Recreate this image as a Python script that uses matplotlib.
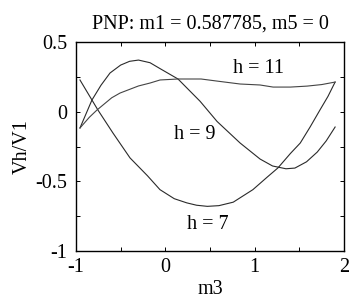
"""
plot.py - harmonic ratio Vh/V1 versus m3 (PNP, m1 = 0.587785, m5 = 0).
"""

import matplotlib
matplotlib.use("Agg")
import matplotlib.pyplot as plt
from matplotlib.ticker import MultipleLocator

# ── Data ──────────────────────────────────────────────────────────────

M3_H7 = [-0.955, -0.821, -0.754, -0.586, -0.395, -0.2, -0.06, 0.1, 0.24, 0.35,
         0.47, 0.6, 0.76, 0.98, 1.14, 1.26, 1.4, 1.51, 1.62, 1.73, 1.82, 1.9]
VH_H7 = [0.228, 0.084, 0.012, -0.153, -0.332, -0.46, -0.56, -0.625, -0.655, -0.672,
         -0.68, -0.675, -0.65, -0.56, -0.47, -0.404, -0.30, -0.225, -0.11, 0.012, 0.11, 0.213]

M3_H9 = [-0.955, -0.821, -0.72, -0.619, -0.50, -0.40, -0.30, -0.171, -0.06, 0.142,
         0.389, 0.579, 0.837, 1.06, 1.2, 1.35, 1.45, 1.58, 1.70, 1.8, 1.9]
VH_H9 = [-0.117, 0.084, 0.19, 0.278, 0.335, 0.362, 0.371, 0.352, 0.31, 0.235,
         0.075, -0.07, -0.225, -0.34, -0.39, -0.41, -0.405, -0.36, -0.29, -0.21, -0.11]

M3_H11 = [-0.955, -0.85, -0.765, -0.6, -0.507, -0.3, -0.171, -0.059, 0.142, 0.4,
          0.579, 0.837, 1.06, 1.206, 1.4, 1.587, 1.75, 1.9]
VH_H11 = [-0.117, -0.04, 0.012, 0.1, 0.134, 0.185, 0.206, 0.228, 0.235, 0.235,
          0.22, 0.199, 0.192, 0.177, 0.177, 0.184, 0.195, 0.213]

LABELS = ["h = 7", "h = 9", "h = 11"]
LABEL_POS = [(0.47, -0.813), (0.333, -0.167), (1.04, 0.307)]

TITLE = "PNP: m1 = 0.587785, m5 = 0"

# ── Plot ──────────────────────────────────────────────────────────────

plt.rcParams["font.family"] = ["Liberation Serif", "DejaVu Serif"]

fig = plt.figure(figsize=(3.5, 3.03), dpi=100)
ax = fig.add_axes([0.217, 0.172, 0.766, 0.689])

line_color = "#2a2a2a"
ax.plot(M3_H7, VH_H7, color=line_color, linewidth=0.8)
ax.plot(M3_H9, VH_H9, color=line_color, linewidth=0.8)
ax.plot(M3_H11, VH_H11, color="#444444", linewidth=0.8)

for text, (x, y) in zip(LABELS, LABEL_POS):
    ax.text(x, y, text, ha="center", va="center", fontsize=14.5)

ax.set_xlim(-1, 2)
ax.set_ylim(-1, 0.5)
ax.set_xticks([-1, 0, 1, 2])
ax.set_yticks([-1, -0.5, 0, 0.5])
ax.set_yticklabels(["-1", "-0.5", "0", "0.5"])
ax.set_xticklabels(["-1", "0", "1", "2"])
ax.xaxis.set_minor_locator(MultipleLocator(0.5))
ax.yaxis.set_minor_locator(MultipleLocator(0.25))
ax.tick_params(which="both", direction="in", top=True, right=True,
               length=3, width=0.7, labelsize=14.5)
ax.tick_params(axis="x", which="major", pad=5)
ax.tick_params(axis="y", which="major", pad=6)
for spine in ax.spines.values():
    spine.set_linewidth(1.0)

ax.set_xlabel("m3", fontsize=14.5, labelpad=2)
ax.set_ylabel("Vh/V1", fontsize=14.5, labelpad=3)
ax.set_title(TITLE, fontsize=14.5, pad=10)

fig.savefig("out.png", dpi=100)
